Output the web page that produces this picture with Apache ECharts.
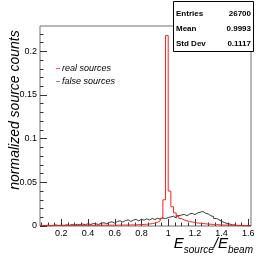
<!DOCTYPE html>
<html><head><meta charset="utf-8">
<script src="https://cdn.jsdelivr.net/npm/echarts@6/dist/echarts.min.js"></script>
<style>html,body{margin:0;padding:0;background:#fff}#c{width:268px;height:258px}</style>
</head><body><div id="c"></div>
<script>
// histogram binning (lower edge of first bin, bin width)
const binStart = 0.04;
const binWidth = 0.02;
// real sources (red), one value per bin
const realSources = [
0.0003,0.0003,0.0004,0.0003,0.0004,0.0004,0.0005,0.0004,0.0005,0.0005,
0.0006,0.0005,0.0006,0.0006,0.0007,0.0006,0.0007,0.0007,0.0008,0.0007,
0.0008,0.0008,0.0009,0.0008,0.0009,0.0009,0.0010,0.0009,0.0010,0.0010,
0.0011,0.0011,0.0012,0.0012,0.0013,0.0014,
0.0015,0.0016,0.0018,0.0020,0.0023,0.0027,0.0033,0.0042,0.0058,0.0090,
0.0300,0.2180,0.0400,0.0220,0.0150,0.0110,0.0085,0.0070,0.0060,0.0052,
0.0046,0.0040,0.0035,0.0031,0.0028,0.0025,0.0022,0.0020,0.0018,0.0016,
0.0014,0.0012,0.0011,0.0010,0.0009,0.0008,0.0007,0.0006,0.0005,0.0004,
0.0004,0.0003,0.0002
];
// false sources (grey), one value per bin
const falseSources = [
0.0006,0.0002,0.0010,0.0004,0.0008,0.0012,0.0005,0.0011,0.0007,0.0014,
0.0008,0.0016,0.0010,0.0019,0.0012,0.0022,0.0015,0.0026,0.0017,0.0029,
0.0024,0.0018,0.0033,0.0037,0.0025,0.0042,0.0048,0.0033,0.0052,0.0060,
0.0045,0.0062,0.0070,0.0052,0.0068,0.0075,0.0058,0.0078,0.0066,0.0082,
0.0068,0.0086,0.0074,0.0089,0.0078,0.0093,0.0084,0.0097,0.0104,0.0112,
0.0092,0.0118,0.0126,0.0133,0.0117,0.0137,0.0145,0.0130,0.0150,0.0158,
0.0166,0.0146,0.0138,0.0116,0.0109,0.0086,0.0074,0.0052,0.0041,0.0028,
0.0023,0.0013,0.0012,0.0006,0.0007,0.0003,0.0004,0.0001,0.0002
];
const xTicks = [0.2,0.4,0.6,0.8,1,1.2,1.4,1.6];
const yTicks = [0,0.05,0.1,0.15,0.2];
const xMin = 0.04, xMax = 1.62, yMin = 0, yMax = 0.229;
const stats = [["Entries","26700"],["Mean","0.9993"],["Std Dev","0.1117"]];

function histPoints(vals){
  const pts = [];
  for (let i=0;i<vals.length;i++) pts.push([+(binStart+i*binWidth).toFixed(4), vals[i]]);
  pts.push([+(binStart+vals.length*binWidth).toFixed(4), vals[vals.length-1]]);
  return pts;
}
function minors(step, lo, hi, majors){
  const out=[];
  for (let k=Math.ceil(lo/step-1e-9); k*step<=hi+1e-9; k++){
    const v=+(k*step).toFixed(4);
    if (!majors.some(m=>Math.abs(m-v)<1e-6)) out.push(v);
  }
  return out;
}
const FONT = 'Liberation Sans';
const frameColor = '#707070';
const chart = echarts.init(document.getElementById('c'), null, {renderer:'canvas'});
const lblStyle = {fontFamily:FONT, fontSize:9, color:'#000'};
chart.setOption({
  animation:false,
  grid:{left:40,right:17,top:26,bottom:32,show:true,borderColor:frameColor,borderWidth:1,backgroundColor:'transparent'},
  xAxis:[
    {type:'value',min:xMin,max:xMax,position:'bottom',
     axisLine:{show:false},splitLine:{show:false},
     axisTick:{show:true,inside:true,length:7,lineStyle:{color:'#333'},customValues:xTicks},
     axisLabel:Object.assign({show:true,margin:3,customValues:xTicks},lblStyle)},
    {type:'value',min:xMin,max:xMax,position:'bottom',
     axisLine:{show:false},splitLine:{show:false},
     axisTick:{show:true,inside:true,length:3.5,lineStyle:{color:'#333'},customValues:minors(0.05,0.05,1.6,xTicks)},
     axisLabel:{show:false}}
  ],
  yAxis:[
    {type:'value',min:yMin,max:yMax,position:'left',
     axisLine:{show:false},splitLine:{show:false},
     axisTick:{show:true,inside:true,length:7,lineStyle:{color:'#333'},customValues:yTicks},
     axisLabel:Object.assign({show:true,margin:3,customValues:yTicks},lblStyle)},
    {type:'value',min:yMin,max:yMax,position:'left',
     axisLine:{show:false},splitLine:{show:false},
     axisTick:{show:true,inside:true,length:3.5,lineStyle:{color:'#333'},customValues:minors(0.01,0.01,0.22,yTicks)},
     axisLabel:{show:false}}
  ],
  legend:{orient:'vertical',left:56,top:64,itemWidth:4,itemHeight:1,itemGap:4,icon:'rect',padding:0,
    textStyle:{fontFamily:FONT,fontSize:9,fontStyle:'italic',color:'#000',padding:[0,0,0,-3]},
    data:['real sources','false sources']},
  series:[
    {name:'false sources',type:'line',step:'end',symbol:'none',xAxisIndex:0,yAxisIndex:0,
     data:histPoints(falseSources),lineStyle:{color:'#3a3a3a',width:1},itemStyle:{color:'#888'}},
    {name:'real sources',type:'line',step:'end',symbol:'none',xAxisIndex:0,yAxisIndex:0,
     data:histPoints(realSources),lineStyle:{color:'#ff2020',width:1},itemStyle:{color:'#ff5050'}}
  ],
  graphic:[
    {type:'text',x:15,y:110,rotation:Math.PI/2,
     style:{text:'normalized source counts',fontFamily:FONT,fontSize:14,fontStyle:'italic',fill:'#000',align:'center',verticalAlign:'middle'}},
    {type:'text',right:15,top:236,
     style:{text:'{E|E}{s|source}{E|/E}{s|beam}',fontFamily:FONT,fill:'#000',
       rich:{E:{fontFamily:FONT,fontSize:15,fontStyle:'italic',lineHeight:19,verticalAlign:'top'},
             s:{fontFamily:FONT,fontSize:10,fontStyle:'italic',lineHeight:19,verticalAlign:'bottom',padding:[8,0,0,0]}}}},
    {type:'group',left:173,top:1,children:[
      {type:'rect',shape:{x:0.5,y:0.5,width:80,height:50},style:{fill:'#fff',stroke:'#000',lineWidth:1}},
      ...stats.flatMap((r,i)=>[
        {type:'text',x:3,y:13+i*14.7,style:{text:r[0],fontFamily:FONT,fontSize:8,fontWeight:'bold',fill:'#000',verticalAlign:'middle'}},
        {type:'text',x:78,y:13+i*14.7,style:{text:r[1],fontFamily:FONT,fontSize:8,fontWeight:'bold',fill:'#000',align:'right',verticalAlign:'middle'}}
      ])
    ]}
  ]
});
</script></body></html>
